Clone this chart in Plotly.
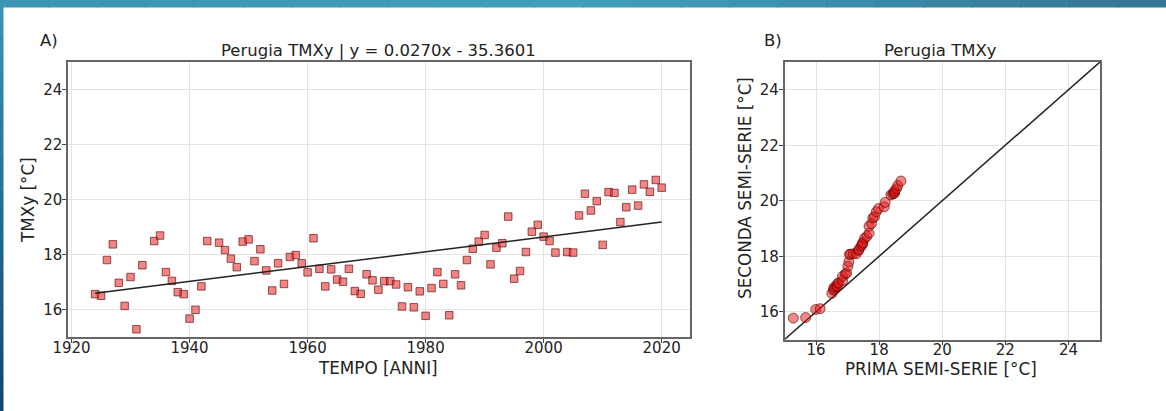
import numpy as np
import plotly.graph_objects as go

# ---------------- data ----------------
years = [1924, 1925, 1926, 1927, 1928, 1929, 1930, 1931, 1932, 1934, 1935, 1936,
         1937, 1938, 1939, 1940, 1941, 1942, 1943, 1945, 1946, 1947, 1948, 1949,
         1950, 1951, 1952, 1953, 1954, 1955, 1956, 1957, 1958, 1959, 1960, 1961,
         1962, 1963, 1964, 1965, 1966, 1967, 1968, 1969, 1970, 1971, 1972,
         1973, 1974, 1975, 1976, 1977, 1978, 1979, 1980, 1981, 1982, 1983, 1984,
         1985, 1986, 1987, 1988, 1989, 1990, 1991, 1992, 1993, 1994, 1995, 1996,
         1997, 1998, 1999, 2000, 2001, 2002, 2004, 2005, 2006, 2007, 2008, 2009,
         2010, 2011, 2012, 2013, 2014, 2015, 2016, 2017, 2018, 2019, 2020]
tmxy = [16.56, 16.50, 17.80, 18.37, 16.97, 16.13, 17.18, 15.28, 17.61, 18.49, 18.69, 17.36,
        17.04, 16.63, 16.56, 15.67, 15.99, 16.84, 18.49, 18.43, 18.16, 17.85, 17.54, 18.47,
        18.55, 17.76, 18.19, 17.42, 16.69, 17.68, 16.93, 17.91, 17.98, 17.68, 17.35, 18.59,
        17.48, 16.84, 17.46, 17.09, 17.01, 17.48, 16.67, 16.57, 17.28, 17.06, 16.72,
        17.03, 17.03, 16.91, 16.11, 16.81, 16.08, 16.66, 15.77, 16.78, 17.36, 16.93, 15.79,
        17.28, 16.88, 17.80, 18.21, 18.47, 18.71, 17.64, 18.25, 18.41, 19.38, 17.12, 17.40,
        18.09, 18.83, 19.08, 18.65, 18.49, 18.07, 18.09, 18.07, 19.42, 20.21, 19.60, 19.94,
        18.35, 20.27, 20.24, 19.18, 19.72, 20.36, 19.78, 20.55, 20.28, 20.71, 20.43]
slope = 0.0270
intercept = -35.3601
title_a = "Perugia TMXy | y = 0.0270x - 35.3601"
title_b = "Perugia TMXy"
x_ticks_a = [1920, 1940, 1960, 1980, 2000, 2020]
y_ticks = [16, 18, 20, 22, 24]

# Q-Q comparison: sorted first half vs sorted second half of the series
half = len(tmxy) // 2
first_half = sorted(tmxy[:half])
second_half = sorted(tmxy[half:])

trend_x = [years[0], years[-1]]
trend_y = [slope * v + intercept for v in trend_x]

W, H = 1166, 411
def px(x):
    return x / W
def py(y):
    return 1 - y / H

FONT = "DejaVu Sans"
fig = go.Figure()

fig.add_trace(go.Scatter(
    x=years, y=tmxy, mode="markers", xaxis="x", yaxis="y",
    marker=dict(symbol="square", size=7.5, color="rgba(235,50,50,0.6)",
                line=dict(color="rgba(90,10,10,0.65)", width=1)),
    showlegend=False))
fig.add_trace(go.Scatter(
    x=trend_x, y=trend_y, mode="lines", xaxis="x", yaxis="y",
    line=dict(color="#222222", width=1.5), showlegend=False))

fig.add_trace(go.Scatter(
    x=[15, 25], y=[15, 25], mode="lines", xaxis="x2", yaxis="y2",
    line=dict(color="#222222", width=1.5), showlegend=False))
fig.add_trace(go.Scatter(
    x=first_half, y=second_half, mode="markers", xaxis="x2", yaxis="y2",
    marker=dict(symbol="circle", size=10, color="rgba(225,20,20,0.5)",
                line=dict(color="rgba(90,0,0,0.6)", width=1)),
    showlegend=False))

axis_common = dict(showline=True, mirror=True, linecolor="#666666", linewidth=1.5,
                   ticks="outside", ticklen=4, tickcolor="#444444",
                   showgrid=True, gridcolor="#e4e4e4", gridwidth=1,
                   zeroline=False, tickfont=dict(family=FONT, size=15, color="#222222"))
xcommon = dict(axis_common, ticklabelstandoff=-8)
ycommon = dict(axis_common, ticklabelstandoff=-3)

fig.update_layout(
    width=W, height=H, margin=dict(l=0, r=0, t=0, b=0, autoexpand=False),
    paper_bgcolor="white", plot_bgcolor="white",
    xaxis=dict(domain=[px(68), px(690)], range=[1919.4, 2024.8], tickvals=x_ticks_a,
               anchor="y", **xcommon),
    yaxis=dict(domain=[py(337), py(62)], range=[15, 25], tickvals=y_ticks,
               anchor="x", **ycommon),
    xaxis2=dict(domain=[px(784.5), px(1100)], range=[15, 25], tickvals=y_ticks,
                anchor="y2", **xcommon),
    yaxis2=dict(domain=[py(339.5), py(62)], range=[15, 25], tickvals=y_ticks,
                anchor="x2", **ycommon),
)

def ann(text, x, y, size, xanchor="center", angle=0):
    fig.add_annotation(text=text, x=px(x), y=py(y), xref="paper", yref="paper",
                       showarrow=False, xanchor=xanchor, yanchor="middle",
                       textangle=angle,
                       font=dict(family=FONT, size=size, color="#222222"))

ann("A)", 38, 40, 16.5, xanchor="left")
ann("B)", 762, 40, 16.5, xanchor="left")
ann(title_a, 378, 51, 16.5)
ann(title_b, 940, 51, 16.5)
ann("TEMPO [ANNI]", 378, 368, 16.8)
ann("PRIMA SEMI-SERIE [°C]", 941, 369, 16.8)
ann("TMXy [°C]", 28, 200, 16.8, angle=-90)
ann("SECONDA SEMI-SERIE [°C]", 745, 188, 16.8, angle=-90)

# decorative slide frame: top gradient band and left strip
def lerp(c1, c2, t):
    return "rgb(%d,%d,%d)" % tuple(int(round(a + (b - a) * t)) for a, b in zip(c1, c2))

n = 24
top_l, top_m, top_r = (58, 148, 178), (66, 160, 187), (52, 118, 152)
for i in range(n):
    t = i / (n - 1)
    c = lerp(top_l, top_m, t * 2) if t < 0.5 else lerp(top_m, top_r, (t - 0.5) * 2)
    fig.add_shape(type="rect", xref="paper", yref="paper",
                  x0=i / n, x1=(i + 1) / n + 0.001, y0=py(7.5), y1=1,
                  fillcolor=c, line=dict(width=0), layer="above")
side_t, side_b = (56, 148, 178), (22, 70, 110)
for i in range(n):
    t = i / (n - 1)
    fig.add_shape(type="rect", xref="paper", yref="paper",
                  x0=0, x1=px(3.5), y0=1 - (i + 1) / n - 0.001, y1=1 - i / n,
                  fillcolor=lerp(side_t, side_b, t), line=dict(width=0), layer="above")

fig.write_html("out.html",
               config={"displayModeBar": False},
               post_script="document.body.style.margin='0';"
                           "document.body.style.padding='0';"
                           "document.body.style.overflow='hidden';")
